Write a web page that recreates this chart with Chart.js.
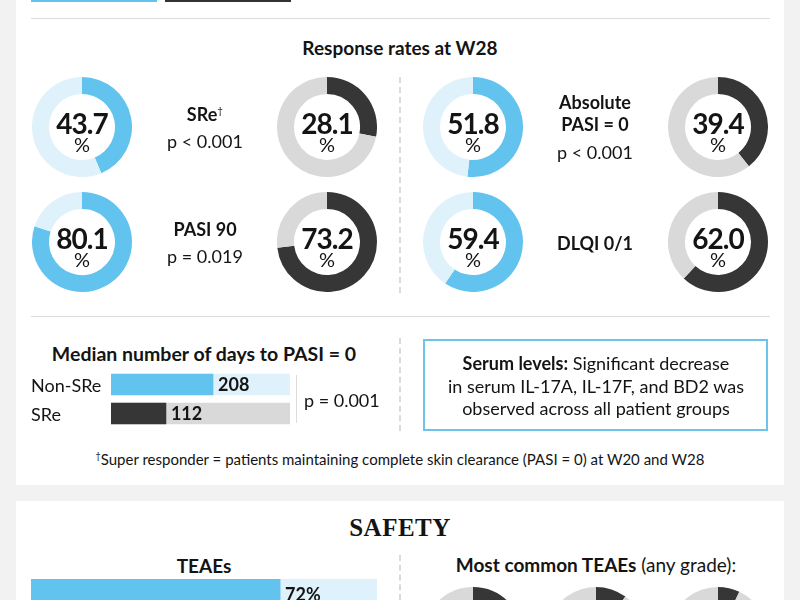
<!DOCTYPE html>
<html>
<head>
<meta charset="utf-8">
<script src="https://cdn.jsdelivr.net/npm/chart.js@4"></script>
<style>
  html, body { margin: 0; padding: 0; }
  body { width: 800px; height: 600px; overflow: hidden; background: #f2f2f2; font-family: Lato, "Noto Sans", sans-serif; color: #141414; position: relative; }
  .panel { position: absolute; background: #fff; }
  .abs { position: absolute; }
  .hline { position: absolute; height: 1px; background: #dcdcdc; }
  .dash { position: absolute; width: 0; border-left: 2px dashed #dadada; }
  .ctr { position: absolute; text-align: center; transform: translate(-50%, -50%); white-space: nowrap; }
  .num { font-weight: 700; font-size: 28px; letter-spacing: -1px; line-height: 1; }
  .pct { font-size: 20px; line-height: 1; }
  .lbl { font-size: 18px; line-height: 1; }
  .b { font-weight: 700; }
  sup.dag { font-size: 10px; vertical-align: 7px; font-weight: 400; }
  canvas { position: absolute; }
</style>
</head>
<body>
<div class="panel" style="left:16px; top:0; width:768px; height:485px;"></div>
<div class="panel" style="left:16px; top:501px; width:768px; height:99px;"></div>

<div class="abs" style="left:31px; top:0; width:126px; height:2px; background:#62c3ee;"></div>
<div class="abs" style="left:165px; top:0; width:126px; height:2px; background:#333;"></div>
<div class="hline" style="left:31px; top:18px; width:739px;"></div>
<div class="hline" style="left:31px; top:316px; width:739px;"></div>

<div class="ctr b" style="left:400px; top:47px; font-size:19px;">Response rates at W28</div>
<div class="dash" style="left:399px; top:77px; height:216px;"></div>
<div class="dash" style="left:399px; top:338px; height:93px;"></div>
<div class="dash" style="left:399px; top:555px; height:45px;"></div>

<div id="donuts"></div>

<div class="ctr b" style="left:204px; top:353px; font-size:19.5px;">Median number of days to PASI = 0</div>
<div id="dayLabels"></div>
<canvas id="daysChart" width="179" height="58" style="left:111px; top:370px;"></canvas>
<div class="abs" style="left:296px; top:375px; width:1px; height:48px; background:#dcdcdc;"></div>
<div class="abs lbl" id="dayP" style="left:304px; top:391px;"></div>

<div class="abs" style="left:423px; top:339px; width:341px; height:88px; border:2px solid #6dc4ea;"></div>
<div class="ctr" style="left:596px; top:386px; font-size:18px; line-height:22.5px;">
  <span class="b">Serum levels:</span> Significant decrease<br>in serum IL-17A, IL-17F, and BD2 was<br>observed across all patient groups
</div>

<div class="ctr" style="left:400px; top:459px; font-size:15px;"><sup style="font-size:9px;">†</sup>Super responder = patients maintaining complete skin clearance (PASI = 0) at W20 and W28</div>

<div class="ctr" style="left:400px; top:528px; font-family:'Liberation Serif', serif; font-weight:700; font-size:25px; letter-spacing:0.5px;">SAFETY</div>
<div class="ctr b" style="left:204px; top:565px; font-size:19px;">TEAEs</div>
<canvas id="teaeChart" width="346" height="30" style="left:31px; top:579px;"></canvas>
<div class="ctr" style="left:596px; top:564px; font-size:19px;"><span class="b">Most common TEAEs</span> (any grade):</div>
<canvas id="common0" width="100" height="100" style="left:423px; top:587px;"></canvas>
<canvas id="common1" width="100" height="100" style="left:546px; top:587px;"></canvas>
<canvas id="common2" width="100" height="100" style="left:668px; top:587px;"></canvas>

<script>
// ===== data =====
const rateLabels = [["SRe†"], ["Absolute", "PASI = 0"], ["PASI 90"], ["DLQI 0/1"]];
const rateP = ["p < 0.001", "p < 0.001", "p = 0.019", ""];
const blueRates = [43.7, 51.8, 80.1, 59.4];
const darkRates = [28.1, 39.4, 73.2, 62.0];

const dayGroups = ["Non-SRe", "SRe"];
const medianDays = [208, 112];
const dayMax = 365;
const dayP = "p = 0.001";

const teaeGroups = ["TEAEs"];
const teaeRates = [72];
const commonTeaeRates = [25, 10, 7];

// ===== colours =====
const BLUE = "#62c3ee", BLUE_LT = "#dff1fb", DARK = "#363636", GRAY = "#d9d9d9";

// ===== layout of the 2x2 donut pairs =====
const cellX = [82, 473];      // left donut centre of each column
const pairGap = 245;          // distance to the dark donut
const rowY = [127, 242];
const midX = [205, 595];
// vertical offsets of the middle text, by number of lines
const textOffsets = { 1: [1], 2: [-13, 14], 3: [-25, -3, 25] };

const donutBox = document.getElementById("donuts");

function makeDonut(canvas, value, fill, track) {
    new Chart(canvas, {
        type: "doughnut",
        data: {
            datasets: [{
                data: [value, 100 - value],
                backgroundColor: [fill, track],
                borderWidth: 0
            }]
        },
        options: {
            responsive: false,
            animation: false,
            events: [],
            cutout: "66%",
            plugins: { legend: { display: false }, tooltip: { enabled: false } }
        }
    });
}

function addDonut(cx, cy, value, fill, track) {
    const c = document.createElement("canvas");
    c.width = 100; c.height = 100;
    c.style.left = (cx - 50) + "px";
    c.style.top = (cy - 50) + "px";
    donutBox.appendChild(c);
    makeDonut(c, value, fill, track);

    const n = document.createElement("div");
    n.className = "ctr num";
    n.style.left = cx + "px"; n.style.top = (cy - 4) + "px";
    n.textContent = value.toFixed(1);
    donutBox.appendChild(n);

    const p = document.createElement("div");
    p.className = "ctr pct";
    p.style.left = cx + "px"; p.style.top = (cy + 17) + "px";
    p.textContent = "%";
    donutBox.appendChild(p);
}

function addText(cx, cy, text, bold) {
    const d = document.createElement("div");
    d.className = "ctr lbl" + (bold ? " b" : "");
    d.style.left = cx + "px"; d.style.top = cy + "px";
    d.innerHTML = text.replace("†", '<sup class="dag">†</sup>');
    donutBox.appendChild(d);
}

rateLabels.forEach((lines, i) => {
    const col = i % 2, row = Math.floor(i / 2);
    const cy = rowY[row];
    addDonut(cellX[col], cy, blueRates[i], BLUE, BLUE_LT);
    addDonut(cellX[col] + pairGap, cy, darkRates[i], DARK, GRAY);

    const items = lines.map(t => [t, true]);
    if (rateP[i]) items.push([rateP[i], false]);
    const offs = textOffsets[items.length];
    items.forEach(([t, b], k) => addText(midX[col], cy + offs[k], t, b));
});

// ===== value label plugin for bars =====
const barValueLabels = {
    id: "barValueLabels",
    afterDatasetsDraw(chart, args, opts) {
        const { ctx } = chart;
        const meta = chart.getDatasetMeta(0);
        ctx.save();
        ctx.font = "700 18px Lato, 'Noto Sans', sans-serif";
        ctx.fillStyle = "#141414";
        ctx.textBaseline = "middle";
        meta.data.forEach((bar, i) => {
            const v = chart.data.datasets[0].data[i];
            ctx.fillText(v + (opts.suffix || ""), bar.x + 5, bar.y + 1);
        });
        ctx.restore();
    }
};

function makeTrackBar(id, labels, values, max, fills, tracks, thickness, suffix) {
    new Chart(document.getElementById(id), {
        type: "bar",
        data: {
            labels: labels,
            datasets: [
                { data: values, backgroundColor: fills, barThickness: thickness, grouped: false, order: 0 },
                { data: labels.map(() => max), backgroundColor: tracks, barThickness: thickness, grouped: false, order: 1 }
            ]
        },
        options: {
            indexAxis: "y",
            responsive: false,
            animation: false,
            events: [],
            layout: { padding: 0 },
            scales: {
                x: { display: false, min: 0, max: max },
                y: { display: false }
            },
            plugins: {
                legend: { display: false },
                tooltip: { enabled: false },
                barValueLabels: { suffix: suffix }
            }
        },
        plugins: [barValueLabels]
    });
}

// ===== median days =====
const labelBox = document.getElementById("dayLabels");
dayGroups.forEach((g, i) => {
    const d = document.createElement("div");
    d.className = "abs lbl";
    d.style.left = "31px";
    d.style.top = (376 + i * 29) + "px";
    d.textContent = g;
    labelBox.appendChild(d);
});
document.getElementById("dayP").textContent = dayP;
makeTrackBar("daysChart", dayGroups, medianDays, dayMax, [BLUE, DARK], [BLUE_LT, GRAY], 21, "");

// ===== safety =====
makeTrackBar("teaeChart", teaeGroups, teaeRates, 100, [BLUE], [BLUE_LT], 30, "%");
commonTeaeRates.forEach((v, i) => makeDonut(document.getElementById("common" + i), v, DARK, GRAY));
</script>
</body>
</html>
